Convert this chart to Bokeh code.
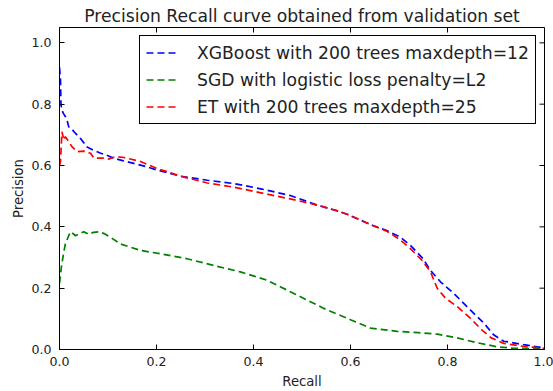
import math
from bokeh.plotting import figure
from bokeh.models import Range1d, Legend, LegendItem, FixedTicker, PrintfTickFormatter
from bokeh.embed import file_html
from bokeh.resources import INLINE

title_text = "Precision Recall curve obtained from validation set"
x_label = "Recall"
y_label = "Precision"
ticks = [0.0, 0.2, 0.4, 0.6, 0.8, 1.0]
x_max = 1.0
y_max = 1.05

xgb_name = "XGBoost with 200 trees maxdepth=12"
xgb_recall = [0.0, 0.002, 0.003, 0.005, 0.008, 0.012, 0.016, 0.019, 0.025, 0.03, 0.036, 0.045, 0.057,
              0.07, 0.085, 0.1, 0.111, 0.13, 0.153, 0.175, 0.2, 0.25, 0.305, 0.36, 0.415, 0.476, 0.531,
              0.573, 0.593, 0.648, 0.676, 0.703, 0.724, 0.748, 0.765, 0.786, 0.813, 0.847, 0.875, 0.895,
              0.916, 0.957, 1.0]
xgb_precision = [0.92, 0.88, 0.80, 0.78, 0.77, 0.76, 0.745, 0.726, 0.72, 0.71, 0.70, 0.685, 0.66,
                 0.65, 0.64, 0.632, 0.624, 0.616, 0.607, 0.598, 0.586, 0.565, 0.552, 0.541, 0.524, 0.502,
                 0.471, 0.452, 0.441, 0.403, 0.387, 0.366, 0.339, 0.299, 0.258, 0.22, 0.183, 0.129, 0.086,
                 0.048, 0.027, 0.016, 0.005]

sgd_name = "SGD with logistic loss penalty=L2"
sgd_recall = [0.0, 0.004, 0.008, 0.012, 0.019, 0.023, 0.033, 0.042, 0.05, 0.06, 0.07, 0.081, 0.092,
              0.105, 0.126, 0.167, 0.208, 0.263, 0.318, 0.373, 0.428, 0.456, 0.497, 0.545, 0.6, 0.641,
              0.696, 0.74, 0.779, 0.82, 0.861, 0.902, 0.936, 1.0]
sgd_precision = [0.216, 0.27, 0.31, 0.344, 0.371, 0.384, 0.371, 0.378, 0.384, 0.376, 0.382, 0.384, 0.378,
                 0.366, 0.344, 0.323, 0.312, 0.296, 0.274, 0.253, 0.226, 0.204, 0.172, 0.134, 0.097, 0.07,
                 0.059, 0.055, 0.05, 0.038, 0.022, 0.009, 0.004, 0.002]

et_name = "ET with 200 trees maxdepth=25"
et_recall = [0.0, 0.002, 0.005, 0.009, 0.012, 0.016, 0.019, 0.026, 0.036, 0.05, 0.064, 0.071, 0.091,
             0.102, 0.115, 0.133, 0.167, 0.2, 0.25, 0.305, 0.36, 0.415, 0.476, 0.531, 0.573, 0.593,
             0.648, 0.676, 0.703, 0.724, 0.748, 0.765, 0.779, 0.796, 0.82, 0.847, 0.87, 0.89, 0.916,
             0.957, 1.0]
et_precision = [0.60, 0.613, 0.71, 0.683, 0.694, 0.685, 0.677, 0.661, 0.645, 0.647, 0.64, 0.624, 0.624,
                0.621, 0.629, 0.626, 0.613, 0.591, 0.565, 0.543, 0.529, 0.511, 0.491, 0.471, 0.452, 0.441,
                0.403, 0.385, 0.357, 0.328, 0.29, 0.253, 0.199, 0.167, 0.14, 0.102, 0.065, 0.038, 0.02,
                0.01, 0.004]

FONT = "DejaVu Sans"
TEXT = "#222222"

p = figure(width=553, height=391, output_backend="svg", toolbar_location=None,
           x_range=Range1d(0, x_max), y_range=Range1d(0, y_max),
           min_border_left=59, min_border_right=9, min_border_bottom=41, min_border_top=27,
           x_axis_label=x_label, y_axis_label=y_label)
p.title.text = title_text
p.title.align = "center"
p.title.vertical_align = "top"
p.title.text_font = FONT
p.title.text_font_size = "17.2px"
p.title.text_font_style = "normal"
p.title.text_color = TEXT
p.title.standoff = 0
p.xgrid.visible = False
p.ygrid.visible = False
p.outline_line_color = "black"
p.outline_line_width = 1
p.background_fill_color = "white"
p.border_fill_color = "white"

for ax in p.axis:
    ax.ticker = FixedTicker(ticks=ticks)
    ax.formatter = PrintfTickFormatter(format="%.1f")
    ax.major_tick_in = 5
    ax.major_tick_out = 0
    ax.minor_tick_line_color = None
    ax.major_label_text_font = FONT
    ax.major_label_text_font_size = "12.6px"
    ax.major_label_text_color = TEXT
    ax.axis_label_text_font = FONT
    ax.axis_label_text_font_size = "13.2px"
    ax.axis_label_text_font_style = "normal"
    ax.axis_label_text_color = TEXT
    ax.axis_line_color = "black"
    ax.major_tick_line_color = "black"
p.xaxis.major_label_standoff = 7
p.yaxis.major_label_standoff = 8
p.xaxis.axis_label_standoff = 5
p.yaxis.axis_label_standoff = 2

# inward ticks on the top and right edges of the frame (clipped to the frame)
p.scatter(x=ticks, y=[y_max] * len(ticks), marker="dash", angle=math.pi / 2, size=10,
          line_color="black", line_width=1)
p.scatter(x=[x_max] * len(ticks), y=ticks, marker="dash", size=10,
          line_color="black", line_width=1)

dash = "7 4"
lw = 1.7
r1 = p.line(xgb_recall, xgb_precision, line_color="#0000ff", line_width=lw, line_dash=dash)
r2 = p.line(sgd_recall, sgd_precision, line_color="#008000", line_width=lw, line_dash=dash)
r3 = p.line(et_recall, et_precision, line_color="#ff0000", line_width=lw, line_dash=dash)

legend = Legend(items=[LegendItem(label=xgb_name, renderers=[r1]),
                       LegendItem(label=sgd_name, renderers=[r2]),
                       LegendItem(label=et_name, renderers=[r3])],
                location="top_right")
legend.label_text_font = FONT
legend.label_text_font_size = "17.2px"
legend.label_text_color = TEXT
legend.border_line_color = "black"
legend.border_line_width = 1
legend.border_line_alpha = 1
legend.background_fill_alpha = 1
legend.glyph_width = 31
legend.glyph_height = 21
legend.label_height = 21
legend.label_standoff = 20
legend.spacing = 6
legend.padding = 6
legend.margin = 8
p.add_layout(legend)

open("out.html", "w").write(file_html(p, INLINE))
